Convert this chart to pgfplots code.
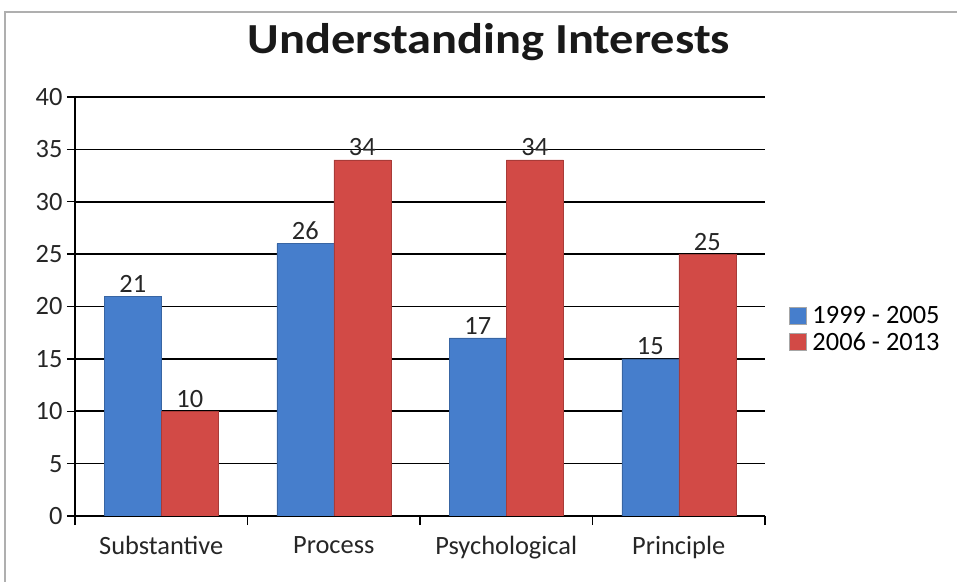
\documentclass[border=0pt]{standalone}
\usepackage{fontspec}
\setmainfont{Carlito}
\usepackage{pgfplots}
\pgfplotsset{compat=1.18}
\definecolor{cblue}{RGB}{70,126,204}
\definecolor{cred}{RGB}{210,74,70}
\definecolor{frame}{RGB}{175,175,175}
\begin{document}
\begin{tikzpicture}
\useasboundingbox (0bp,0bp) rectangle (957bp,582bp);
\draw[frame, line width=1.2bp] (5bp,0bp) -- (5bp,570bp) -- (957bp,570bp);
\node[font=\bfseries\fontsize{43}{50}\selectfont, anchor=base, text=black!90, inner sep=0pt] at (489bp,528bp) {\scalebox{1.13}[1]{Understanding Interests}};
\begin{axis}[
  at={(75bp,66bp)}, anchor=south west,
  scale only axis, width=690bp, height=419bp,
  ybar=0pt, bar width=57bp,
  xmin=-0.5, xmax=3.5, ymin=0, ymax=40,
  axis lines=left, axis line style={-, line width=1.4bp, black},
  xtick={0,1,2,3},
  xticklabels={Substantive,Process,Psychological,Principle},
  major x tick style={draw=none},
  minor xtick={-0.5,0.5,1.5,2.5,3.5},
  minor x tick style={line width=1.4bp, black},
  minor tick length=9bp,
  ytick={0,5,...,40},
  major y tick style={line width=1.4bp, black},
  major tick length=8bp,
  tick align=outside,
  ymajorgrids, major grid style={line width=1.6bp, black},
  tick label style={font=\fontsize{26.5}{30}\selectfont, text=black!85},
  /pgf/number format/assume math mode=true,
  xticklabel style={yshift=-9bp},
  yticklabel style={xshift=-1bp},
  nodes near coords,
  nodes near coords style={font=\fontsize{26.5}{30}\selectfont, text=black!85, inner sep=3.5bp},
  legend style={at={(1.03,0.446)}, anchor=west, draw=none,
    font=\fontsize{26.5}{30}\selectfont, row sep=3bp,
    /tikz/every even column/.append style={column sep=0bp},
    /tikz/every odd column/.append style={column sep=4bp}},
  legend cell align=left,
  legend image code/.code={\draw[#1, draw=gray!70, line width=0.6bp] (0bp,-8.5bp) rectangle (17bp,8.5bp);},
]
\addplot[fill=cblue, draw=cblue!80!black, line width=0.4bp]
  coordinates {(0,21) (1,26) (2,17) (3,15)};
\addplot[fill=cred, draw=cred!80!black, line width=0.4bp]
  coordinates {(0,10) (1,34) (2,34) (3,25)};
\legend{1999 - 2005, 2006 - 2013}
\end{axis}
\end{tikzpicture}
\end{document}
